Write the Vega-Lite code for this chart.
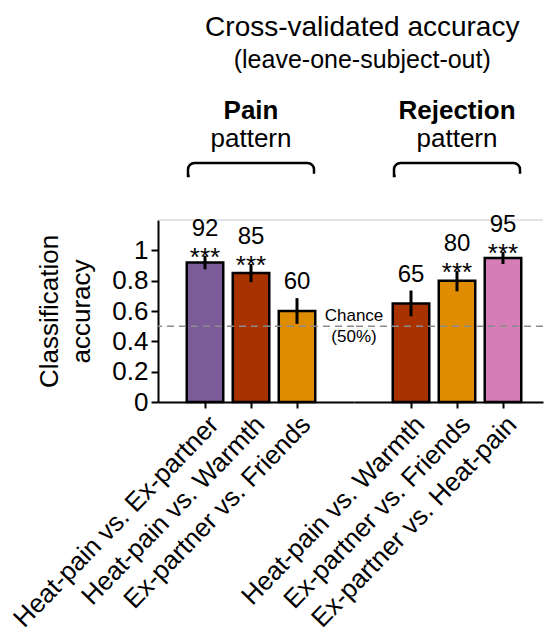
{
  "$schema": "https://vega.github.io/schema/vega-lite/v6.json",
  "autosize": {"type": "none"},
  "padding": {"left": 158, "top": 220, "right": 387, "bottom": 415},
  "datasets": {
    "acc": [
      {"pattern": "Pain", "comparison": "Heat-pain vs. Ex-partner", "accuracy": 0.92, "lo": 0.875, "hi": 0.965, "pct": 92, "stars": "***"},
      {"pattern": "Pain", "comparison": "Heat-pain vs. Warmth", "accuracy": 0.85, "lo": 0.79, "hi": 0.91, "pct": 85, "stars": "***"},
      {"pattern": "Pain", "comparison": "Ex-partner vs. Friends", "accuracy": 0.60, "lo": 0.515, "hi": 0.685, "pct": 60, "stars": ""},
      {"pattern": "Rejection", "comparison": "Heat-pain vs. Warmth", "accuracy": 0.65, "lo": 0.565, "hi": 0.735, "pct": 65, "stars": ""},
      {"pattern": "Rejection", "comparison": "Ex-partner vs. Friends", "accuracy": 0.80, "lo": 0.73, "hi": 0.865, "pct": 80, "stars": "***"},
      {"pattern": "Rejection", "comparison": "Ex-partner vs. Heat-pain", "accuracy": 0.95, "lo": 0.91, "hi": 0.99, "pct": 95, "stars": "***"}
    ]
  },
  "title": {
    "text": "Cross-validated accuracy",
    "subtitle": "(leave-one-subject-out)",
    "font": "Liberation Sans",
    "subtitleFont": "Liberation Sans",
    "fontSize": 28,
    "subtitleFontSize": 25,
    "fontWeight": "normal",
    "color": "black",
    "subtitleColor": "black",
    "anchor": "middle",
    "dx": 86,
    "offset": 25,
    "subtitlePadding": 6
  },
  "spacing": 0,
  "bounds": "flush",
  "hconcat": [
    {
      "width": 196,
      "height": 182,
      "resolve": {"axis": {"y": "independent", "x": "independent"}},
      "layer": [
        {
          "data": {"name": "acc"},
          "transform": [{"filter": "datum.pattern === 'Pain'"}],
          "mark": {"type": "bar", "stroke": "black", "strokeWidth": 2.5},
          "encoding": {
            "x": {"field": "comparison", "type": "nominal", "title": null,
              "scale": {"domain": ["Heat-pain vs. Ex-partner", "Heat-pain vs. Warmth", "Ex-partner vs. Friends"], "paddingInner": 0.2065, "paddingOuter": 0.7337, "align": 0.426},
              "axis": {"title": null, "labelAngle": -46, "labelAlign": "right", "labelBaseline": "top", "labelFontSize": 26, "labelFont": "Liberation Sans", "labelColor": "black", "labelLimit": 400, "labelPadding": 3, "labelOverlap": false, "domainColor": "black", "domainWidth": 2, "tickColor": "black", "tickWidth": 2, "tickSize": 6}},
            "y": {"field": "accuracy", "type": "quantitative",
              "scale": {"domain": [0, 1.2], "nice": false},
              "axis": {"values": [0, 0.2, 0.4, 0.6, 0.8, 1], "format": ".1~f", "labelOverlap": false, "labelFontSize": 26, "labelFont": "Liberation Sans", "labelColor": "black", "labelPadding": 3, "tickSize": 7, "tickWidth": 2, "tickColor": "black", "domainColor": "black", "domainWidth": 2, "grid": false, "title": ["Classification", "accuracy"], "titleFontSize": 26, "titleFont": "Liberation Sans", "titleFontWeight": "normal", "titleColor": "black", "titlePadding": 17, "titleLineHeight": 32}},
            "color": {"field": "comparison", "type": "nominal", "legend": null,
              "scale": {"domain": ["Heat-pain vs. Ex-partner", "Heat-pain vs. Warmth", "Ex-partner vs. Friends", "Ex-partner vs. Heat-pain"], "range": ["#7B5C98", "#A83200", "#DF8C00", "#D47DB6"]}}
          }
        },
        {
          "data": {"values": [{"k": 1}]},
          "mark": {"type": "rule", "color": "#c8c8c8", "strokeWidth": 1},
          "encoding": {"y": {"datum": 1.2, "type": "quantitative", "axis": null}}
        },
        {
          "data": {"values": [{"k": 1}]},
          "mark": {"type": "rule", "color": "#8c8c8c", "strokeWidth": 1.5, "strokeDash": [7, 5]},
          "encoding": {"y": {"datum": 0.5, "type": "quantitative", "axis": null}}
        },
        {
          "data": {"name": "acc"},
          "transform": [{"filter": "datum.pattern === 'Pain'"}],
          "mark": {"type": "rule", "color": "black", "strokeWidth": 3},
          "encoding": {
            "x": {"field": "comparison", "type": "nominal", "axis": null},
            "y": {"field": "lo", "type": "quantitative", "axis": null},
            "y2": {"field": "hi"}
          }
        },
        {
          "data": {"name": "acc"},
          "transform": [{"filter": "datum.pattern === 'Pain' && datum.stars !== ''"}],
          "mark": {"type": "text", "font": "Liberation Sans", "fontSize": 26, "baseline": "alphabetic", "dy": 10, "color": "black"},
          "encoding": {
            "x": {"field": "comparison", "type": "nominal", "axis": null},
            "y": {"field": "hi", "type": "quantitative", "axis": null},
            "text": {"field": "stars"}
          }
        },
        {
          "data": {"name": "acc"},
          "transform": [{"filter": "datum.pattern === 'Pain' && datum.stars !== ''"}],
          "mark": {"type": "text", "font": "Liberation Sans", "fontSize": 24, "baseline": "alphabetic", "dy": -20, "color": "black"},
          "encoding": {
            "x": {"field": "comparison", "type": "nominal", "axis": null},
            "y": {"field": "hi", "type": "quantitative", "axis": null},
            "text": {"field": "pct", "type": "quantitative"}
          }
        },
        {
          "data": {"name": "acc"},
          "transform": [{"filter": "datum.pattern === 'Pain' && datum.stars === ''"}],
          "mark": {"type": "text", "font": "Liberation Sans", "fontSize": 24, "baseline": "alphabetic", "dy": -9, "color": "black"},
          "encoding": {
            "x": {"field": "comparison", "type": "nominal", "axis": null},
            "y": {"field": "hi", "type": "quantitative", "axis": null},
            "text": {"field": "pct", "type": "quantitative"}
          }
        },
        {
          "data": {"values": [{"comparison": "Ex-partner vs. Friends", "t": "Chance\n(50%)"}]},
          "mark": {"type": "text", "font": "Liberation Sans", "fontSize": 17, "baseline": "middle", "lineBreak": "\n", "lineHeight": 21, "dx": 57, "dy": -10, "color": "black"},
          "encoding": {
            "x": {"field": "comparison", "type": "nominal", "axis": null},
            "y": {"datum": 0.5, "type": "quantitative", "axis": null},
            "text": {"field": "t"}
          }
        },
        {
          "data": {"values": [{"comparison": "Heat-pain vs. Warmth", "g": "Pain", "p": "pattern"}]},
          "mark": {"type": "text", "font": "Liberation Sans", "fontSize": 26, "fontWeight": "bold", "baseline": "alphabetic", "color": "black"},
          "encoding": {
            "x": {"field": "comparison", "type": "nominal", "axis": null},
            "y": {"datum": 1.866, "type": "quantitative", "axis": null},
            "text": {"field": "g"}
          }
        },
        {
          "data": {"values": [{"comparison": "Heat-pain vs. Warmth", "g": "Pain", "p": "pattern"}]},
          "mark": {"type": "text", "font": "Liberation Sans", "fontSize": 26, "baseline": "alphabetic", "color": "black"},
          "encoding": {
            "x": {"field": "comparison", "type": "nominal", "axis": null},
            "y": {"datum": 1.681, "type": "quantitative", "axis": null},
            "text": {"field": "p"}
          }
        },
        {
          "data": {"values": [{"comparison": "Heat-pain vs. Warmth", "g": "Pain"}]},
          "mark": {"type": "bar", "width": 126, "fill": "white", "fillOpacity": 0, "stroke": "black", "strokeWidth": 2.5, "cornerRadiusTopLeft": 8, "cornerRadiusTopRight": 8, "strokeDash": [127.3, 126.6, 20]},
          "encoding": {
            "x": {"field": "comparison", "type": "nominal", "axis": null},
            "y": {"datum": 1.576, "type": "quantitative", "axis": null},
            "y2": {"datum": 1.49}
          }
        }
      ]
    },
    {
      "width": 189,
      "height": 182,
      "resolve": {"axis": {"y": "independent", "x": "independent"}},
      "layer": [
        {
          "data": {"name": "acc"},
          "transform": [{"filter": "datum.pattern === 'Rejection'"}],
          "mark": {"type": "bar", "stroke": "black", "strokeWidth": 2.5},
          "encoding": {
            "x": {"field": "comparison", "type": "nominal", "title": null,
              "scale": {"domain": ["Heat-pain vs. Warmth", "Ex-partner vs. Friends", "Ex-partner vs. Heat-pain"], "paddingInner": 0.2065, "paddingOuter": 0.6576, "align": 0.6405},
              "axis": {"title": null, "labelAngle": -46, "labelAlign": "right", "labelBaseline": "top", "labelFontSize": 26, "labelFont": "Liberation Sans", "labelColor": "black", "labelLimit": 400, "labelPadding": 3, "labelOverlap": false, "domainColor": "black", "domainWidth": 2, "tickColor": "black", "tickWidth": 2, "tickSize": 6}},
            "y": {"field": "accuracy", "type": "quantitative", "scale": {"domain": [0, 1.2], "nice": false}, "axis": null},
            "color": {"field": "comparison", "type": "nominal", "legend": null,
              "scale": {"domain": ["Heat-pain vs. Ex-partner", "Heat-pain vs. Warmth", "Ex-partner vs. Friends", "Ex-partner vs. Heat-pain"], "range": ["#7B5C98", "#A83200", "#DF8C00", "#D47DB6"]}}
          }
        },
        {
          "data": {"values": [{"k": 1}]},
          "mark": {"type": "rule", "color": "#c8c8c8", "strokeWidth": 1},
          "encoding": {"y": {"datum": 1.2, "type": "quantitative", "axis": null}}
        },
        {
          "data": {"values": [{"k": 1}]},
          "mark": {"type": "rule", "color": "#8c8c8c", "strokeWidth": 1.5, "strokeDash": [7, 5]},
          "encoding": {"y": {"datum": 0.5, "type": "quantitative", "axis": null}}
        },
        {
          "data": {"name": "acc"},
          "transform": [{"filter": "datum.pattern === 'Rejection'"}],
          "mark": {"type": "rule", "color": "black", "strokeWidth": 3},
          "encoding": {
            "x": {"field": "comparison", "type": "nominal", "axis": null},
            "y": {"field": "lo", "type": "quantitative", "axis": null},
            "y2": {"field": "hi"}
          }
        },
        {
          "data": {"name": "acc"},
          "transform": [{"filter": "datum.pattern === 'Rejection' && datum.stars !== ''"}],
          "mark": {"type": "text", "font": "Liberation Sans", "fontSize": 26, "baseline": "alphabetic", "dy": 10, "color": "black"},
          "encoding": {
            "x": {"field": "comparison", "type": "nominal", "axis": null},
            "y": {"field": "hi", "type": "quantitative", "axis": null},
            "text": {"field": "stars"}
          }
        },
        {
          "data": {"name": "acc"},
          "transform": [{"filter": "datum.pattern === 'Rejection' && datum.stars !== ''"}],
          "mark": {"type": "text", "font": "Liberation Sans", "fontSize": 24, "baseline": "alphabetic", "dy": -20, "color": "black"},
          "encoding": {
            "x": {"field": "comparison", "type": "nominal", "axis": null},
            "y": {"field": "hi", "type": "quantitative", "axis": null},
            "text": {"field": "pct", "type": "quantitative"}
          }
        },
        {
          "data": {"name": "acc"},
          "transform": [{"filter": "datum.pattern === 'Rejection' && datum.stars === ''"}],
          "mark": {"type": "text", "font": "Liberation Sans", "fontSize": 24, "baseline": "alphabetic", "dy": -9, "color": "black"},
          "encoding": {
            "x": {"field": "comparison", "type": "nominal", "axis": null},
            "y": {"field": "hi", "type": "quantitative", "axis": null},
            "text": {"field": "pct", "type": "quantitative"}
          }
        },
        {
          "data": {"values": [{"comparison": "Ex-partner vs. Friends", "g": "Rejection", "p": "pattern"}]},
          "mark": {"type": "text", "font": "Liberation Sans", "fontSize": 26, "fontWeight": "bold", "baseline": "alphabetic", "color": "black"},
          "encoding": {
            "x": {"field": "comparison", "type": "nominal", "axis": null},
            "y": {"datum": 1.866, "type": "quantitative", "axis": null},
            "text": {"field": "g"}
          }
        },
        {
          "data": {"values": [{"comparison": "Ex-partner vs. Friends", "g": "Rejection", "p": "pattern"}]},
          "mark": {"type": "text", "font": "Liberation Sans", "fontSize": 26, "baseline": "alphabetic", "color": "black"},
          "encoding": {
            "x": {"field": "comparison", "type": "nominal", "axis": null},
            "y": {"datum": 1.681, "type": "quantitative", "axis": null},
            "text": {"field": "p"}
          }
        },
        {
          "data": {"values": [{"comparison": "Ex-partner vs. Friends", "g": "Rejection"}]},
          "mark": {"type": "bar", "width": 126, "fill": "white", "fillOpacity": 0, "stroke": "black", "strokeWidth": 2.5, "cornerRadiusTopLeft": 8, "cornerRadiusTopRight": 8, "strokeDash": [127.3, 126.6, 20]},
          "encoding": {
            "x": {"field": "comparison", "type": "nominal", "axis": null},
            "y": {"datum": 1.576, "type": "quantitative", "axis": null},
            "y2": {"datum": 1.49}
          }
        }
      ]
    }
  ],
  "config": {
    "view": {"stroke": null},
    "font": "Liberation Sans",
    "axis": {"labelOverlap": false}
  }
}
